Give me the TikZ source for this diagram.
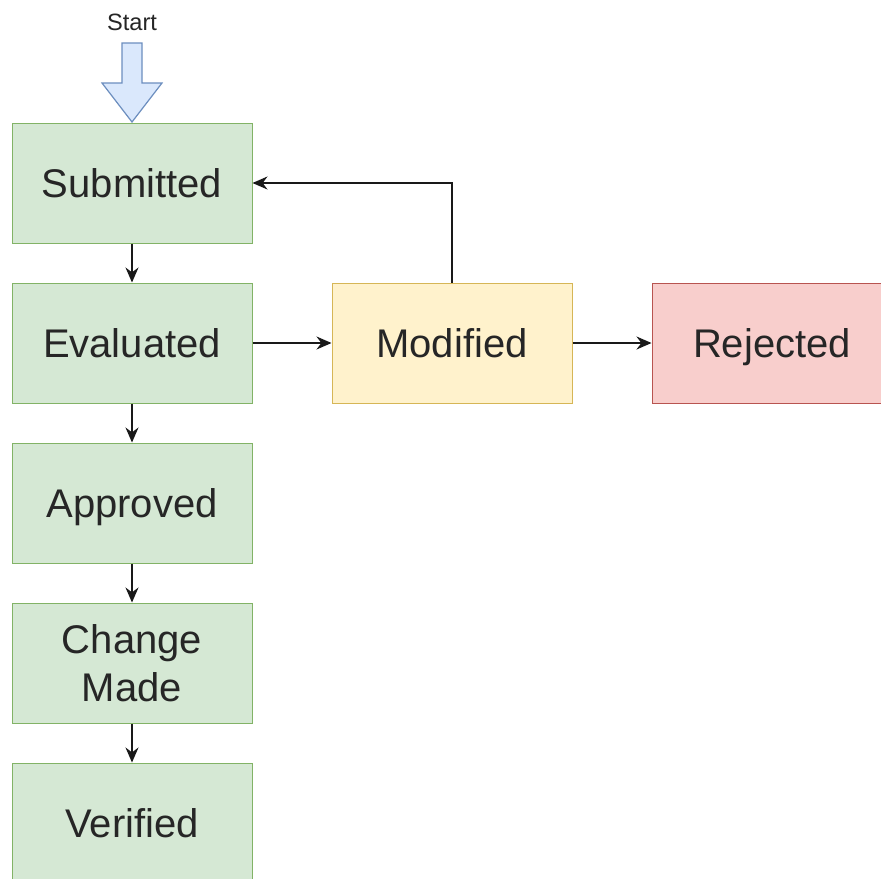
\documentclass[tikz,border=0pt]{standalone}
\usepackage{fontspec}
\setmainfont{Liberation Sans}
\usetikzlibrary{arrows.meta}
\definecolor{greenfill}{HTML}{D5E8D4}
\definecolor{greenline}{HTML}{82B366}
\definecolor{yellowfill}{HTML}{FFF2CC}
\definecolor{yellowline}{HTML}{D6B656}
\definecolor{redfill}{HTML}{F8CECC}
\definecolor{redline}{HTML}{B85450}
\definecolor{bluefill}{HTML}{DAE8FC}
\definecolor{blueline}{HTML}{6C8EBF}

\begin{document}
\begin{tikzpicture}[x=0.5pt,y=-0.5pt]
\tikzstyle{state}=[draw,line width=0.5pt,minimum width=120pt,minimum height=60pt,inner sep=0pt,align=center,text=black!85,font=\fontsize{20}{24}\selectfont]
\tikzstyle{ok}=[state,fill=greenfill,draw=greenline]
\tikzstyle{edge}=[black!90,line width=0.75pt,-{Stealth[length=7.5pt,width=6.5pt]}]
\useasboundingbox (0,0) rectangle (881,878);
\fill [white] (0,0) rectangle (881,878);
\draw [fill=bluefill,draw=blueline,line width=0.6pt] (122,43) -- (142,43) -- (142,83) -- (162,83) -- (132,122) -- (102,83) -- (122,83) -- cycle;
\node (start) at (132,22) [text=black!85,font=\fontsize{11.8}{14}\selectfont] {Start};
\node (submitted) at (132,183) [ok] {Submitted};
\node (evaluated) at (132,343) [ok] {Evaluated};
\node (approved) at (132,503) [ok,text depth=0pt] {Approved};
\node (changed) at (132,663) [ok] {Change\\Made};
\node (verified) at (132,823) [ok] {Verified};
\node (modified) at (452,343) [state,fill=yellowfill,draw=yellowline] {Modified};
\node (rejected) at (772,343) [state,text depth=0pt,minimum width=126pt,xshift=3pt,fill=redfill,draw=redline] {\hspace*{-6pt}Rejected};
\draw [edge] (submitted) -- (evaluated);
\draw [edge] (evaluated) -- (approved);
\draw [edge] (approved) -- (changed);
\draw [edge] (changed) -- (verified);
\draw [edge] (evaluated) -- (modified);
\draw [edge] (modified) -- (rejected);
\draw [edge] (modified.north) |- (submitted.east);
\end{tikzpicture}
\end{document}
